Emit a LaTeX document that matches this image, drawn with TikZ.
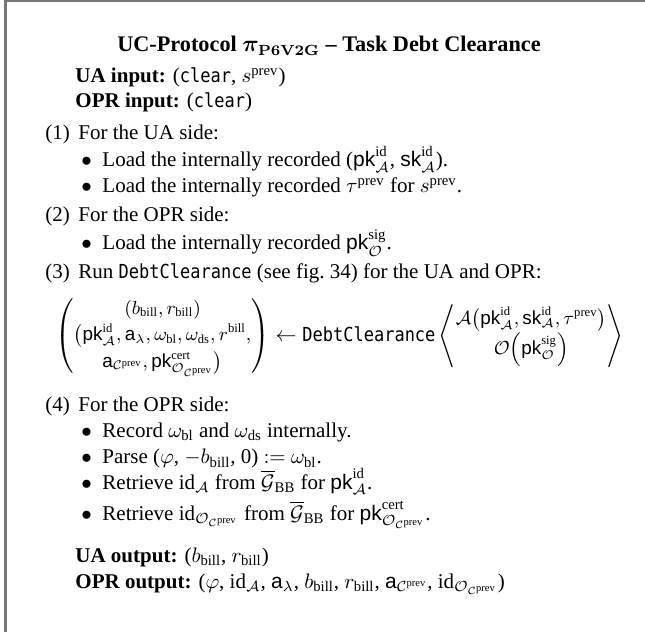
\documentclass[tikz,border=0pt]{standalone}
\usepackage{amsmath}
\usepackage{fontspec}
\setmainfont{Liberation Serif}
\setsansfont{Liberation Sans}
\setmonofont[Scale=0.92,FakeStretch=0.88]{DejaVu Sans Mono}

% protocol notation
\newcommand{\rmsf}[1]{\mathrm{#1}}
\newcommand{\pkid}{\mathsf{pk}^{\rmsf{id}}_{\mathcal{A}}}
\newcommand{\skid}{\mathsf{sk}^{\rmsf{id}}_{\mathcal{A}}}
\newcommand{\pksig}{\mathsf{pk}^{\rmsf{sig}}_{\mathcal{O}}}
\newcommand{\Cprev}{\mathcal{C}^{\rmsf{prev}}}
\newcommand{\pkcert}{\mathsf{pk}^{\rmsf{cert}}_{\mathcal{O}_{\Cprev}}}
\newcommand{\GBB}{\overline{\mathcal{G}}_{\rmsf{BB}}}
\newcommand{\bbill}{b_{\rmsf{bill}}}
\newcommand{\rbill}{r_{\rmsf{bill}}}
\newcommand{\ttname}[1]{\text{\ttfamily #1}}
\newcommand{\smallarr}[1]{\vcenter{\hbox{\fontsize{9}{10.6}\selectfont$\renewcommand{\arraystretch}{1.2}\begin{array}{@{}c@{}}#1\end{array}$}}}

\begin{document}
\begin{tikzpicture}[x=0.4762pt,y=-0.4762pt,
  txt/.style={anchor=base west,inner sep=0pt,font=\fontsize{10}{12}\selectfont},
  ttl/.style={anchor=base,inner sep=0pt,font=\fontsize{10.6}{12.7}\selectfont\bfseries},
  callnode/.style={anchor=west,inner sep=0pt,font=\fontsize{10}{12}\selectfont},
  frameline/.style={draw={rgb,255:red,118;green,118;blue,118},line width=1.1pt}]
\useasboundingbox (0,0) rectangle (645,632);

% frame: top and left rules only
\draw[frameline] (5.5,632) -- (5.5,0.6) -- (645,0.6);

% heading and inputs
\node[ttl] (title) at (329,52) {UC-Protocol {\boldmath$\pi_{\mathbf{P6V2G}}$} -- Task Debt Clearance};
\node[txt] (uain) at (75,83) {\textbf{UA input:} (\texttt{clear}, $s^{\rmsf{prev}}$)};
\node[txt] (oprin) at (75,108) {\textbf{OPR input:} (\texttt{clear})};

% step 1
\node[txt] (n1) at (45,140) {(1)};
\node[txt] (s1) at (78,140) {For the UA side:};
\node[txt] (b1a) at (81,167) {$\bullet$};
\node[txt] (t1a) at (102,167) {Load the internally recorded ($\pkid$, $\skid$).};
\node[txt] (b1b) at (81,193) {$\bullet$};
\node[txt] (t1b) at (102,193) {Load the internally recorded $\tau^{\rmsf{prev}}$ for $s^{\rmsf{prev}}$.};

% step 2
\node[txt] (n2) at (45,222) {(2)};
\node[txt] (s2) at (78,222) {For the OPR side:};
\node[txt] (b2a) at (81,250) {$\bullet$};
\node[txt] (t2a) at (102,250) {Load the internally recorded $\pksig$.};

% step 3
\node[txt] (n3) at (45,279) {(3)};
\node[txt] (s3) at (78,279) {Run \texttt{DebtClearance} (see fig.~34) for the UA and OPR:};
\node[callnode] (call) at (55,336) {$\left(\smallarr{(\bbill,\rbill)\\
  \bigl(\pkid,\mathsf{a}_{\lambda},\omega_{\rmsf{bl}},\omega_{\rmsf{ds}},r^{\rmsf{bill}},\\
  \mathsf{a}_{\Cprev},\pkcert\bigr)}\right)
  \leftarrow \ttname{DebtClearance}
  \left\langle\smallarr{\mathcal{A}\mathopen{}\left(\pkid,\skid,\tau^{\rmsf{prev}}\right)\\
  \mathcal{O}\mathopen{}\left(\pksig\right)}\right\rangle$};

% step 4
\node[txt] (n4) at (45,412) {(4)};
\node[txt] (s4) at (78,412) {For the OPR side:};
\node[txt] (b4a) at (81,437) {$\bullet$};
\node[txt] (t4a) at (102,437) {Record $\omega_{\rmsf{bl}}$ and $\omega_{\rmsf{ds}}$ internally.};
\node[txt] (b4b) at (81,464) {$\bullet$};
\node[txt] (t4b) at (102,464) {Parse ($\varphi$, $-\bbill$, 0) $:=$ $\omega_{\rmsf{bl}}$.};
\node[txt] (b4c) at (81,489) {$\bullet$};
\node[txt] (t4c) at (102,489) {Retrieve $\rmsf{id}_{\mathcal{A}}$ from $\GBB$ for $\pkid$.};
\node[txt] (b4d) at (81,520) {$\bullet$};
\node[txt] (t4d) at (102,520) {Retrieve $\rmsf{id}_{\mathcal{O}_{\Cprev}}$ from $\GBB$ for $\pkcert$.};

% outputs
\node[txt] (uaout) at (75,562) {\textbf{UA output:} ($\bbill$, $\rbill$)};
\node[txt] (oprout) at (75,588) {\textbf{OPR output:} ($\varphi$, $\rmsf{id}_{\mathcal{A}}$, $\mathsf{a}_{\lambda}$, $\bbill$, $\rbill$, $\mathsf{a}_{\Cprev}$, $\rmsf{id}_{\mathcal{O}_{\Cprev}}$)};
\end{tikzpicture}
\end{document}
